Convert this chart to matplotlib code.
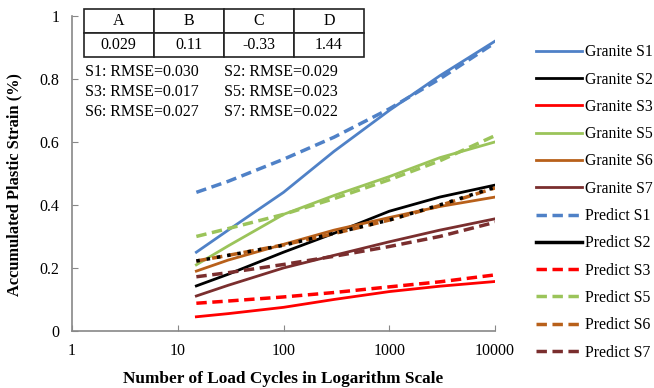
import numpy as np
import matplotlib
matplotlib.use('Agg')
import matplotlib.pyplot as plt

plt.rcParams['font.family'] = ['Liberation Serif', 'DejaVu Serif']

# load cycles where the curves are sampled
cycles = [15, 30, 100, 300, 1000, 3000, 10000]

# measured accumulated plastic strain (%)
granite_s1 = [0.25, 0.32, 0.44, 0.57, 0.70, 0.81, 0.92]
granite_s2 = [0.143, 0.18, 0.25, 0.31, 0.38, 0.425, 0.463]
granite_s3 = [0.045, 0.055, 0.075, 0.10, 0.125, 0.142, 0.157]
granite_s5 = [0.21, 0.27, 0.37, 0.43, 0.49, 0.55, 0.60]
granite_s6 = [0.19, 0.225, 0.275, 0.32, 0.36, 0.395, 0.425]
granite_s7 = [0.111, 0.145, 0.20, 0.24, 0.283, 0.32, 0.356]

# model predictions
predict_s1 = [0.44, 0.475, 0.545, 0.615, 0.705, 0.80, 0.915]
predict_s2 = [0.222, 0.24, 0.272, 0.31, 0.352, 0.40, 0.456]
predict_s3 = [0.088, 0.095, 0.108, 0.122, 0.14, 0.156, 0.178]
predict_s5 = [0.30, 0.325, 0.37, 0.42, 0.48, 0.54, 0.62]
predict_s6 = [0.222, 0.24, 0.273, 0.309, 0.352, 0.398, 0.454]
predict_s7 = [0.172, 0.185, 0.211, 0.237, 0.268, 0.30, 0.345]

# fitted parameters and errors
param_names = ['A', 'B', 'C', 'D']
param_values = ['0.029', '0.11', '-0.33', '1.44']
rmse_text = ['S1: RMSE=0.030', 'S2: RMSE=0.029',
             'S3: RMSE=0.017', 'S5: RMSE=0.023',
             'S6: RMSE=0.027', 'S7: RMSE=0.022']

blue = '#4f81c7'
black = '#000000'
red = '#ff0000'
green = '#9bc45a'
orange = '#b8601a'
brown = '#7a2e2e'

fig = plt.figure(figsize=(6.54, 3.88), dpi=100)
ax = fig.add_axes([0.110, 0.147, 0.647, 0.812])

lw = 2.0
ax.plot(cycles, granite_s1, color=blue, lw=lw, label='Granite S1')
ax.plot(cycles, granite_s2, color=black, lw=lw, label='Granite S2')
ax.plot(cycles, granite_s3, color=red, lw=lw, label='Granite S3')
ax.plot(cycles, granite_s5, color=green, lw=lw, label='Granite S5')
ax.plot(cycles, granite_s6, color=orange, lw=lw, label='Granite S6')
ax.plot(cycles, granite_s7, color=brown, lw=lw, label='Granite S7')

dash = (0, (3, 1.6))
ax.plot(cycles, predict_s1, color=blue, lw=2.5, ls=dash, label='Predict S1')
ax.plot(cycles, predict_s2, color=black, lw=2.5, ls=(0, (1, 2)), zorder=5,
        label='Predict S2')
ax.plot(cycles, predict_s3, color=red, lw=2.5, ls=dash, label='Predict S3')
ax.plot(cycles, predict_s5, color=green, lw=2.5, ls=dash, label='Predict S5')
ax.plot(cycles, predict_s6, color=orange, lw=2.5, ls=dash, label='Predict S6')
ax.plot(cycles, predict_s7, color=brown, lw=2.5, ls=dash, label='Predict S7')

ax.set_xscale('log')
ax.set_xlim(1, 10000)
ax.set_ylim(0, 1)
ax.set_xticks([1, 10, 100, 1000, 10000])
ax.set_xticklabels(['1', '10', '100', '1000', '10000'])
ax.xaxis.set_minor_locator(matplotlib.ticker.NullLocator())
ax.set_yticks([0, 0.2, 0.4, 0.6, 0.8, 1])
ax.set_yticklabels(['0', '0.2', '0.4', '0.6', '0.8', '1'])
ax.tick_params(direction='in', length=4, color='#888888', labelsize=11.5,
               pad=9)

for side in ['top', 'right']:
    ax.spines[side].set_visible(False)
for side in ['left', 'bottom']:
    ax.spines[side].set_color('#888888')
    ax.spines[side].set_linewidth(1.2)

ax.set_xlabel('Number of Load Cycles in Logarithm Scale', fontsize=12.4,
              fontweight='bold', labelpad=8)
ax.set_ylabel('Accumulated Plastic Strain (%)', fontsize=11.8,
              fontweight='bold')
ax.yaxis.set_label_coords(-0.118, 0.465)

# parameter table above the curves
tbl = ax.table(cellText=[param_names, param_values], cellLoc='center',
               bbox=[0.028, 0.870, 0.662, 0.152])
tbl.auto_set_font_size(False)
for cell in tbl.get_celld().values():
    cell.set_edgecolor('#222222')
    cell.set_linewidth(1.2)
    cell.get_text().set_fontsize(11.5)
    cell.set_clip_on(False)

# RMSE of each sample
for i, txt in enumerate(rmse_text):
    col = i % 2
    row = i // 2
    x = 0.032 + col * 0.328
    y = (331 - 72 - row * 20) / 315
    ax.text(x, y, txt, transform=ax.transAxes, fontsize=11.5,
            va='center', ha='left')

leg = ax.legend(loc='upper left', bbox_to_anchor=(1.082, 0.93), frameon=False,
                fontsize=11.3, handlelength=2.9, handletextpad=0.2,
                labelspacing=0.72, borderaxespad=0)
leg.get_lines()[7].set_linestyle('-')

fig.savefig('out.png', dpi=100)
